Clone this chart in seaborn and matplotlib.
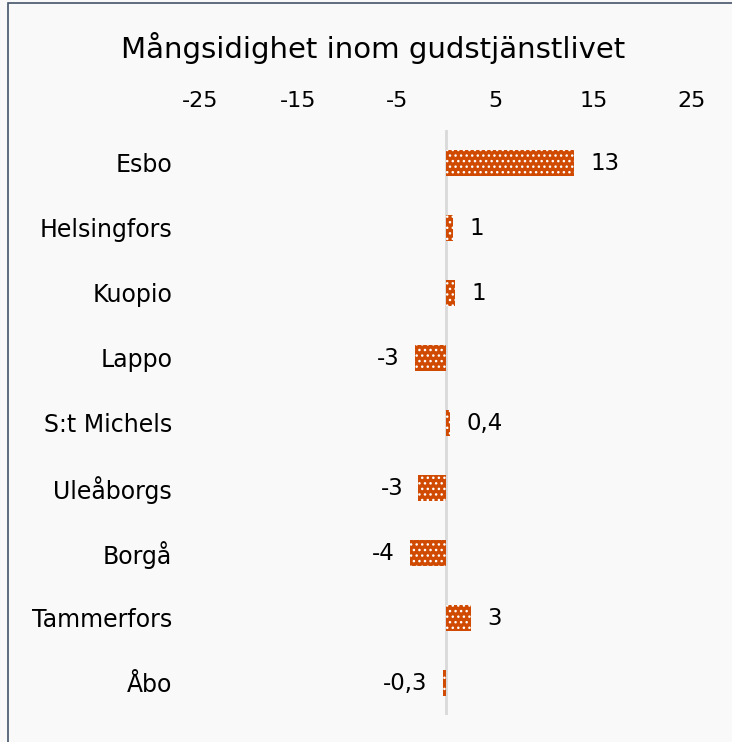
import matplotlib
matplotlib.use("Agg")
import matplotlib.pyplot as plt
import seaborn as sns
import pandas as pd
from matplotlib.patches import Rectangle

categories = ["Esbo", "Helsingfors", "Kuopio", "Lappo", "S:t Michels",
              "Uleåborgs", "Borgå", "Tammerfors", "Åbo"]
values = [13.0, 0.7, 0.9, -3.2, 0.4, -2.8, -3.7, 2.5, -0.3]
value_labels = ["13", "1", "1", "-3", "0,4", "-3", "-4", "3", "-0,3"]
xticks = [-25, -15, -5, 5, 15, 25]
title = "Mångsidighet inom gudstjänstlivet"

df = pd.DataFrame({"region": categories, "value": values})

sns.set_theme(style="white")
plt.rcParams["font.family"] = ["DejaVu Sans"]
plt.rcParams["hatch.linewidth"] = 1.0

fig = plt.figure(figsize=(7.32, 7.42), dpi=100)
fig.patch.set_facecolor("#F9F9F9")
ax = fig.add_axes([200/732, 1-715/742, 492/732, 585/742])
ax.set_facecolor("#F9F9F9")

sns.barplot(data=df, x="value", y="region", orient="h", ax=ax,
            color="#D04A02", width=0.4, saturation=1)
for p in ax.patches:
    p.set_hatch("...")
    p.set_edgecolor("white")
    p.set_linewidth(0)
    p.set_facecolor("#D04A02")

ax.axvline(0, color="#D9D9D9", lw=2, zorder=0)
ax.set_xlim(-25, 25)
ax.set_xticks(xticks)
ax.set_xticklabels([str(t) for t in xticks])
ax.xaxis.tick_top()
ax.tick_params(axis="x", length=0, pad=14, labelsize=16, colors="black")
ax.tick_params(axis="y", length=0, pad=20, labelsize=17, colors="black")
ax.set_xlabel("")
ax.set_ylabel("")
for s in ax.spines.values():
    s.set_visible(False)

for i, (v, lab) in enumerate(zip(values, value_labels)):
    if v >= 0:
        ax.annotate(lab, (v, i), xytext=(12, -1), textcoords="offset points",
                    ha="left", va="center", fontsize=16.5, color="black")
    else:
        ax.annotate(lab, (v, i), xytext=(-11, -1), textcoords="offset points",
                    ha="right", va="center", fontsize=16.5, color="black")

fig.text(373/732, 1-48/742, title, ha="center", va="center", fontsize=21,
         color="black")

fig.add_artist(Rectangle((8/732, -0.1), 1.2, 1.1 - 2.5/742, transform=fig.transFigure,
                         fill=False, edgecolor="#44546A", lw=1.2))

fig.savefig("out.png", dpi=100, facecolor=fig.get_facecolor())
